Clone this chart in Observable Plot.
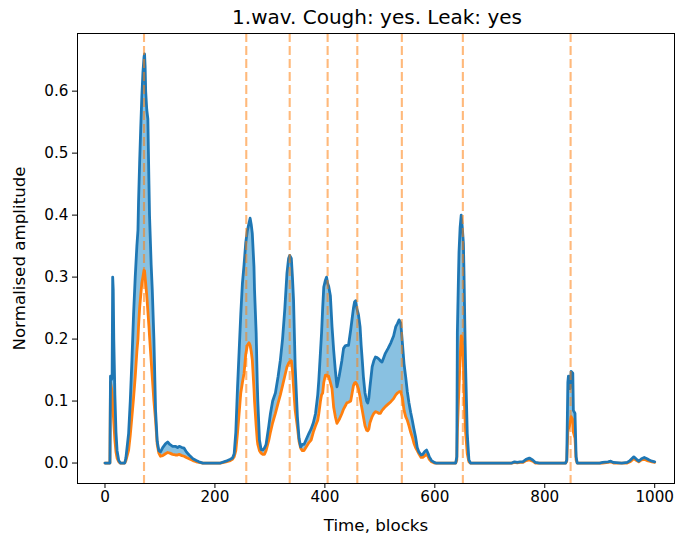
<!DOCTYPE html>
<html><head><meta charset="utf-8">
<script src="https://cdn.jsdelivr.net/npm/d3@7"></script>
<script src="https://cdn.jsdelivr.net/npm/@observablehq/plot@0.6"></script>
<style>
body{margin:0;background:#fff;font-family:"DejaVu Sans",sans-serif;}
#title{height:33px;line-height:35px;margin-left:77px;width:600px;text-align:center;font-size:20px;color:#000;white-space:nowrap;}
</style></head><body>
<div id="title">1.wav. Cough: yes. Leak: yes</div>
<div id="chart"></div>
<script>
const titleText = "1.wav. Cough: yes. Leak: yes";
const xLabel = "Time, blocks";
const yLabel = "Normalised amplitude";
const xTicks = [0, 200, 400, 600, 800, 1000];
const yTicks = [0, 0.1, 0.2, 0.3, 0.4, 0.5, 0.6];
const cuts = [71, 257, 336, 405, 459, 540, 651, 847];

const times = [
  0, 9, 10, 12, 13, 14, 15, 16, 18, 20,
  22, 25, 28, 36, 38, 43, 46, 49, 52, 55,
  58, 60, 61, 63, 65, 67, 69, 71, 72, 73,
  74, 76, 78, 80, 81, 84, 86, 89, 92, 95,
  98, 101, 105, 110, 114, 118, 123, 128, 132, 135,
  140, 144, 148, 153, 160, 166, 171, 178, 210, 220,
  228, 232, 235, 238, 241, 244, 247, 250, 253, 256,
  259, 262, 264, 266, 268, 271, 272, 275, 277, 278,
  281, 284, 287, 290, 293, 298, 301, 305, 310, 315,
  319, 323, 327, 331, 334, 336, 339, 341, 343, 346,
  350, 353, 356, 359, 362, 366, 371, 375, 379, 383,
  387, 389, 392, 394, 396, 398, 401, 403, 405, 407,
  410, 413, 416, 419, 422, 426, 431, 434, 437, 440,
  443, 447, 450, 452, 454, 456, 458, 461, 464, 466,
  468, 470, 473, 476, 478, 480, 482, 486, 489, 492,
  495, 498, 501, 504, 507, 510, 515, 520, 525, 529,
  532, 535, 538, 541, 544, 547, 550, 553, 556, 559,
  562, 565, 568, 571, 575, 578, 582, 585, 588, 590,
  594, 599, 602, 638, 640, 641, 643, 644, 646, 648,
  650, 652, 653, 655, 656, 659, 662, 665, 740, 745,
  750, 755, 760, 766, 772, 778, 783, 790, 838, 840,
  842, 843, 845, 846, 848, 851, 852, 855, 857, 859,
  900, 905, 915, 920, 925, 940, 950, 955, 962, 967,
  971, 976, 981, 986, 990, 995, 1000
];

const blue = [
  0, 0, .14, .135, .14, .30, .28, .20, .11, .05,
  .02, .004, 0, 0, .008, .048, .10, .166, .24, .30,
  .35, .376, .42, .484, .54, .59, .63, .655, .66, .64,
  .60, .57, .555, .45, .40, .32, .28, .20, .085, .035,
  .02, .018, .025, .031, .034, .03, .027, .027, .025, .027,
  .025, .024, .018, .013, .007, .004, .002, 0, 0, .003,
  .006, .008, .015, .05, .12, .18, .24, .29, .32, .355,
  .375, .387, .395, .385, .37, .317, .28, .21, .13, .10,
  .037, .022, .021, .024, .03, .06, .08, .10, .113, .14,
  .166, .20, .247, .306, .33, .335, .33, .30, .263, .155,
  .075, .04, .026, .03, .03, .038, .048, .055, .065, .08,
  .11, .134, .18, .21, .25, .284, .295, .30, .29, .285,
  .27, .22, .182, .15, .123, .14, .166, .185, .189, .19,
  .19, .215, .236, .25, .26, .262, .25, .24, .22, .19,
  .166, .14, .113, .10, .097, .105, .123, .155, .165, .171,
  .17, .168, .165, .163, .17, .177, .185, .194, .205, .22,
  .225, .231, .226, .194, .16, .139, .115, .097, .082, .069,
  .055, .042, .025, .018, .013, .014, .019, .021, .015, .01,
  .004, .001, 0, 0, .01, .21, .30, .34, .38, .40,
  .38, .355, .31, .20, .155, .048, .005, 0, 0, .002,
  .001, .002, .002, .006, .008, .005, .001, 0, 0, .005,
  .13, .14, .13, .12, .148, .145, .085, .08, .01, 0,
  0, .001, .002, .003, .001, 0, .001, .004, .01, .006,
  .003, .007, .009, .007, .005, .003, .002
];

const orange = [
  0, 0, .13, .12, .115, .10, .08, .065, .037, .018,
  .008, .002, 0, 0, .004, .021, .045, .075, .105, .139,
  .18, .20, .22, .25, .27, .29, .30, .311, .31, .30,
  .29, .27, .245, .22, .205, .165, .139, .10, .069, .03,
  .016, .011, .012, .015, .017, .016, .014, .013, .013, .014,
  .012, .011, .009, .007, .004, .002, .001, 0, 0, .002,
  .004, .006, .01, .02, .048, .08, .113, .13, .145, .175,
  .19, .194, .19, .18, .166, .12, .10, .06, .037, .03,
  .02, .016, .014, .014, .02, .037, .05, .065, .08, .097,
  .11, .125, .14, .155, .161, .163, .165, .15, .123, .085,
  .058, .035, .024, .02, .02, .026, .033, .037, .05, .06,
  .069, .08, .10, .11, .113, .13, .142, .142, .14, .14,
  .13, .12, .09, .075, .064, .07, .08, .087, .092, .097,
  .098, .10, .115, .125, .129, .13, .127, .12, .107, .095,
  .085, .075, .06, .053, .052, .055, .065, .075, .08, .083,
  .082, .08, .08, .085, .088, .091, .095, .099, .104, .11,
  .113, .115, .115, .105, .085, .075, .069, .06, .05, .042,
  .032, .025, .02, .015, .009, .009, .012, .014, .01, .006,
  .002, 0, 0, 0, .005, .05, .10, .12, .17, .205,
  .20, .16, .12, .07, .05, .015, .002, 0, 0, .001,
  .0005, .001, .001, .004, .005, .003, 0, 0, 0, .003,
  .05, .055, .06, .065, .075, .07, .05, .04, .005, 0,
  0, 0, .001, .002, 0, 0, 0, .002, .007, .004,
  .002, .005, .006, .004, .003, .002, .001
];

if (times.length !== blue.length || times.length !== orange.length) {
  console.error("length mismatch", times.length, blue.length, orange.length);
}

document.getElementById("title").textContent = titleText;

const data = times.map((t, i) => ({t, blue: blue[i], orange: orange[i]}));

const chart = Plot.plot({
  width: 675,
  height: 506,
  marginLeft: 77,
  marginRight: 1,
  marginTop: 0,
  marginBottom: 56,
  style: {fontFamily: "DejaVu Sans", fontSize: "15.2px", color: "#000", background: "#fff"},
  x: {domain: [-50, 1036], ticks: xTicks, tickSize: 5, tickPadding: 3, label: null, tickFormat: d => String(d)},
  y: {domain: [-0.033, 0.693], ticks: yTicks, tickSize: 5, tickPadding: 4, label: null, tickFormat: d3.format(".1f")},
  marks: [
    Plot.areaY(data, {x: "t", y1: "orange", y2: "blue", fill: "#89c1e1", curve: "linear"}),
    Plot.lineY(data, {x: "t", y: "orange", stroke: "#ff7f0e", strokeWidth: 2.8}),
    Plot.lineY(data, {x: "t", y: "blue", stroke: "#1f77b4", strokeWidth: 2.8}),
    Plot.ruleX(cuts, {stroke: "#ff7f0e", strokeOpacity: 0.55, strokeWidth: 2.1, strokeDasharray: "9,4"}),
    Plot.frame({stroke: "#000", strokeWidth: 1}),
    Plot.text([yLabel], {frameAnchor: "left", dx: -58, rotate: -90, textAnchor: "middle", lineAnchor: "middle", fontSize: 16.7, fill: "#000"}),
    Plot.text([xLabel], {frameAnchor: "bottom", dy: 42, textAnchor: "middle", lineAnchor: "middle", fontSize: 16.7, fill: "#000"})
  ]
});
document.getElementById("chart").appendChild(chart);
</script>
</body></html>
